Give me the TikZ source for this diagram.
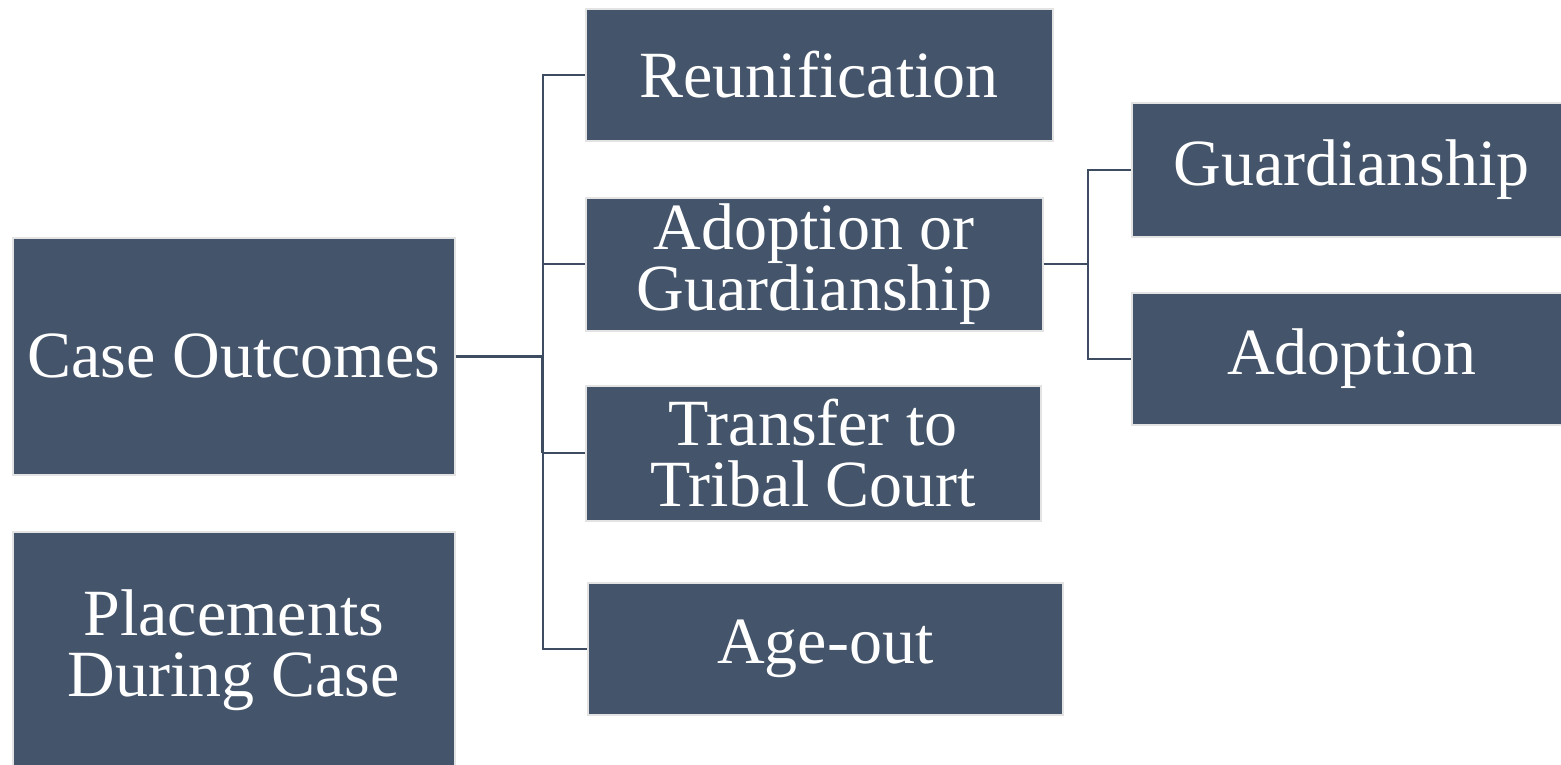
\documentclass[tikz,border=0pt]{standalone}
\usepackage{fontspec}
\setmainfont{Liberation Serif}
\definecolor{boxfill}{HTML}{44546A}
\definecolor{boxedge}{HTML}{E3E3E3}
\definecolor{linkcol}{HTML}{3D4C61}
\begin{document}
\begin{tikzpicture}[x=1pt,y=-1pt,
  box/.style={rectangle, fill=boxfill, draw=boxedge, line width=1.5pt,
    anchor=north west, inner sep=0pt, align=center, text=white,
    font=\fontsize{66}{61}\selectfont},
  link/.style={draw=linkcol, line width=2pt},
  thicklink/.style={draw=linkcol, line width=3.5pt}]
\useasboundingbox (0,0) rectangle (1561,764);
\fill[white] (0,0) rectangle (1561,764);
\clip (0,0) rectangle (1561,764);
% left column
\node[box, minimum width=442pt, minimum height=237pt] (co) at (12,237) {Case Outcomes};
\node[box, minimum width=442pt, minimum height=237pt] (pl) at (12,531) {Placements\\During Case};
% middle column
\node[box, minimum width=467pt, minimum height=132pt] (re) at (585,8) {Reunification};
\node[box, minimum width=457pt, minimum height=133pt] (ag) at (585,197) {Adoption or\\Guardianship};
\node[box, minimum width=455pt, minimum height=135pt] (tr) at (585,385) {Transfer to\\Tribal Court};
\node[box, minimum width=475pt, minimum height=132pt] (ao) at (587,582) {Age-out};
% right column
\node[box, minimum width=440pt, minimum height=134pt] (gu) at (1131,102) {Guardianship};
\node[box, minimum width=440pt, minimum height=132pt] (ad) at (1131,292) {Adoption};
% connectors from Case Outcomes
\draw[thicklink] (co.east) -- ++(87,0) coordinate (j1) -- ++(0,97);
\draw[link] (j1) |- (re.west);
\draw[link] (j1) |- (ag.west);
\draw[link] (j1) |- (tr.west);
\draw[link] (j1) |- (ao.west);
% connectors from Adoption or Guardianship
\draw[link] (ag.east) -- ++(44,0) coordinate (j2);
\draw[link] (j2) |- (gu.west);
\draw[link] (j2) |- (ad.west);
\end{tikzpicture}
\end{document}
